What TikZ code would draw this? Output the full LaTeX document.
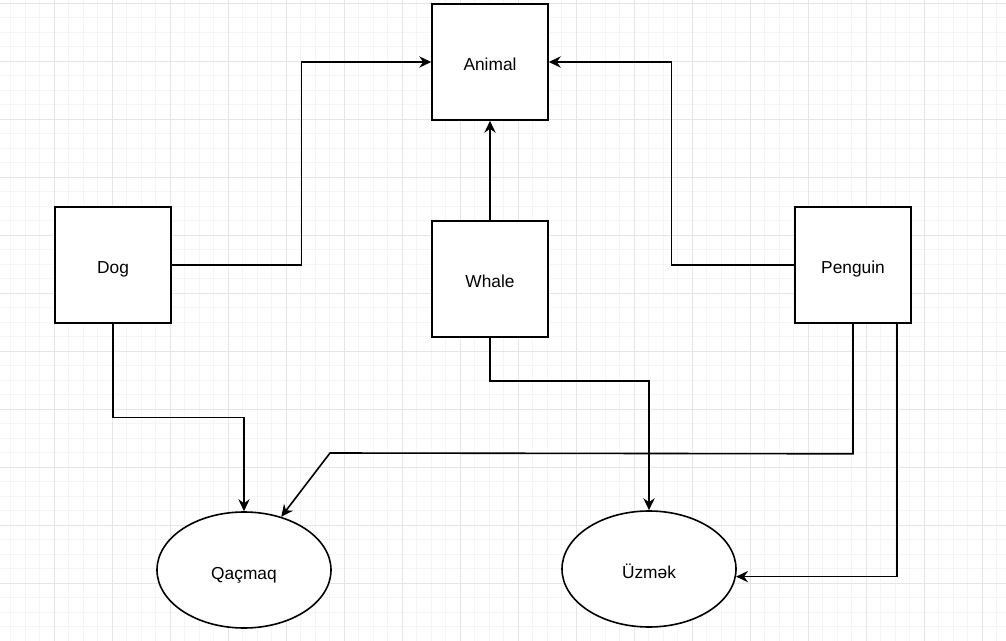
\documentclass[tikz,border=0pt]{standalone}
\usepackage{fontspec}
\setmainfont{Liberation Sans}
\usetikzlibrary{shapes.geometric,arrows.meta,calc}

\begin{document}
\begin{tikzpicture}[x=0.75pt,y=-0.75pt,
  box/.style={draw,line width=1.2pt,fill=white,minimum width=87pt,minimum height=87pt,inner sep=0pt,text height=13.5pt,text depth=0pt,font=\fontsize{13}{15}\selectfont},
  oval/.style={ellipse,draw,line width=1.2pt,fill=white,minimum width=130.5pt,minimum height=87pt,inner sep=0pt,text height=13.5pt,text depth=0pt,font=\fontsize{13}{15}\selectfont},
  arr/.style={line width=1.2pt,-{Stealth[length=9pt,width=8.5pt,inset=3pt]}},
  minorgrid/.style={color=gray!8,line width=0.6pt},
  majorgrid/.style={color=gray!20,line width=0.8pt}]
\clip (0,0) rectangle (1006,641);
\fill[white] (0,0) rectangle (1006,641);
% background grid
\foreach \i in {0,...,69}
\draw[minorgrid] ({-3.7+14.5*\i},0) -- ({-3.7+14.5*\i},641);
\foreach \j in {0,...,44}
\draw[minorgrid] (0,{3.3+14.5*\j}) -- (1006,{3.3+14.5*\j});
\foreach \k in {0,...,18}
\draw[majorgrid] ({-3.7+58*\k},0) -- ({-3.7+58*\k},641);
\foreach \k in {0,...,11}
\draw[majorgrid] (0,{3.3+58*\k}) -- (1006,{3.3+58*\k});
% classes
\node[box] (animal) at (490,62) {Animal};
\node[box] (dog) at (113,265) {Dog};
\node[box] (whale) at (490,279) {Whale};
\node[box] (penguin) at (853,265) {Penguin};
% abilities
\node[oval] (qacmaq) at (244,570) {Qaçmaq};
\node[oval] (uzmek) at (649,569) {Üzmək};
% inheritance
\draw[arr] (dog.east) -| ($(dog.east)!0.5!(animal.west)$) |- (animal.west);
\draw[arr] (whale.north) -- (animal.south);
\draw[arr] (penguin.west) -| ($(penguin.west)!0.5!(animal.east)$) |- (animal.east);
% abilities links
\draw[arr] (dog.south) |- ($(dog.south)!0.5!(qacmaq.north)$) -| (qacmaq.north);
\draw[arr] (whale.south) -- ++(0,43) -| (uzmek.north);
\draw[arr] (penguin.south) -- ++(0,130) -- (330,453) -- (qacmaq.55);
\draw[arr] ($(penguin.south east)+(-15,0)$) |- (uzmek.-5);
\end{tikzpicture}
\end{document}
